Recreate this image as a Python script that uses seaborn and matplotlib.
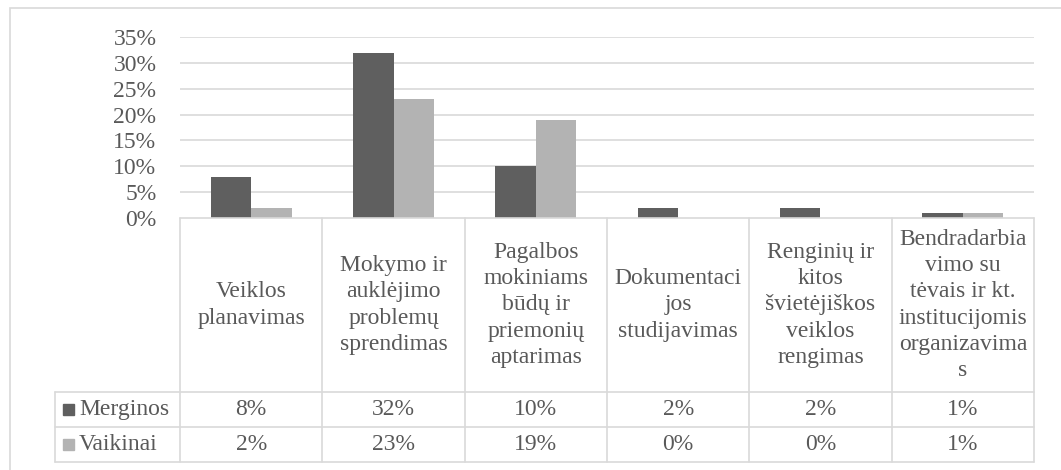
import pandas as pd
import matplotlib.pyplot as plt
import matplotlib.transforms as mtransforms
from matplotlib.patches import Rectangle
import seaborn as sns

categories = [
    "Veiklos\nplanavimas",
    "Mokymo ir\nauklėjimo\nproblemų\nsprendimas",
    "Pagalbos\nmokiniams\nbūdų ir\npriemonių\naptarimas",
    "Dokumentaci\njos\nstudijavimas",
    "Renginių ir\nkitos\nšvietėjiškos\nveiklos\nrengimas",
    "Bendradarbia\nvimo su\ntėvais ir kt.\ninstitucijomis\norganizavima\ns",
]
series = ["Merginos", "Vaikinai"]
merginos = [8, 32, 10, 2, 2, 1]
vaikinai = [2, 23, 19, 0, 0, 1]
colors = ["#5f5f5f", "#b3b3b3"]
yticks = [0, 5, 10, 15, 20, 25, 30, 35]

df = pd.DataFrame({
    "cat": list(range(len(categories))) * 2,
    "series": [series[0]] * len(merginos) + [series[1]] * len(vaikinai),
    "value": merginos + vaikinai,
})

sns.set_theme(style="white")
plt.rcParams["font.family"] = ["Liberation Serif", "DejaVu Serif"]
TXT = "#595959"
GRID = "#d9d9d9"
FS = 17

fig = plt.figure(figsize=(10.61, 4.70), dpi=100)
ax = fig.add_axes([180 / 1061, 1 - 218 / 470, (1034 - 180) / 1061, 181 / 470])

sns.barplot(data=df, x="cat", y="value", hue="series", palette=colors,
            width=0.57, ax=ax, legend=False, saturation=1, linewidth=0)

ax.set_ylim(0, 35)
ax.set_xlim(-0.5, len(categories) - 0.5)
ax.set_yticks(yticks)
ax.set_yticklabels([f"{t}%" for t in yticks])
ax.set_xticks([])
ax.set_xlabel("")
ax.set_ylabel("")
ax.tick_params(axis="y", length=0, pad=17, labelsize=FS, labelcolor=TXT)
for y in yticks[1:]:
    ax.axhline(y, color=GRID, lw=1.2, zorder=0)
for s in ax.spines.values():
    s.set_visible(False)

# data table below the plot area
tr = mtransforms.blended_transform_factory(ax.transData, ax.transAxes)
row_y = [0, -0.961, -1.155, -1.348]
x_left = -1.378
n = len(categories)
line_kw = dict(color=GRID, lw=1.2, transform=tr, clip_on=False)

# header row (categories)
ax.plot([-0.5, n - 0.5], [0, 0], **line_kw)
for i in range(n + 1):
    ax.plot([i - 0.5, i - 0.5], [row_y[0], row_y[3]], **line_kw)
for y in row_y[1:]:
    ax.plot([x_left, n - 0.5], [y, y], **line_kw)
ax.plot([x_left, x_left], [row_y[1], row_y[3]], **line_kw)

for i, c in enumerate(categories):
    ax.text(i, (row_y[0] + row_y[1]) / 2, c, transform=tr, ha="center",
            va="center", fontsize=FS, color=TXT, linespacing=1.32)

values = [merginos, vaikinai]
for r, name in enumerate(series):
    yc = (row_y[r + 1] + row_y[r + 2]) / 2
    ax.add_patch(Rectangle((x_left + 0.058, yc - 0.032), 0.077, 0.064,
                           transform=tr, color=colors[r], clip_on=False))
    ax.text(x_left + 0.17, yc, name, transform=tr, ha="left", va="center",
            fontsize=FS, color=TXT)
    for i, v in enumerate(values[r]):
        ax.text(i, yc, f"{v}%", transform=tr, ha="center", va="center",
                fontsize=FS, color=TXT)

# outer chart border
fig.patches.append(Rectangle((10 / 1061, -0.05), 1.1, 1 - 8 / 470 + 0.05,
                             transform=fig.transFigure, fill=False,
                             edgecolor=GRID, lw=1.2))

fig.savefig("out.png", dpi=100)
